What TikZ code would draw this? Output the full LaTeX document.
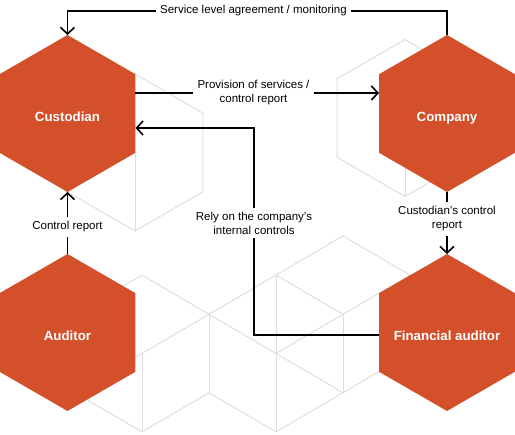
\documentclass[tikz,border=0pt]{standalone}
\usepackage{fontspec}
\setmainfont{Liberation Sans}
\usetikzlibrary{arrows.meta,positioning,shapes.geometric}
\definecolor{hexorange}{HTML}{D4502B}
\definecolor{cubegrey}{HTML}{DEDEDE}
% hexagon text takes no room, so every hexagon keeps the same size
\newcommand{\hextext}[1]{\makebox[0pt]{#1}}

\tikzset{
  hexnode/.style={regular polygon, regular polygon sides=6, shape border rotate=30,
    fill=hexorange, draw=none, minimum size=157pt, inner sep=0pt, outer sep=0pt,
    text height=16.5pt, text depth=0pt,
    text=white, font=\fontsize{13.3}{16}\selectfont\bfseries},
  lbl/.style={align=center, inner sep=4pt, font=\fontsize{11.5}{14}\selectfont},
  conn/.style={line width=1.6pt, black},
  cubeline/.style={draw=cubegrey, line width=1pt},
}

\begin{document}
\begin{tikzpicture}[x=1pt,y=1pt,>={Straight Barb[length=6.5pt,width=14pt]}]
\useasboundingbox (0,0) rectangle (515,435);
\def\hexr{78.5}
% grey cubes behind the top hexagons
\foreach \cx/\cy in {135/282.5,405/317} {
  \draw[cubeline] (\cx,\cy) +(90:\hexr) -- +(150:\hexr) -- +(210:\hexr)
    -- +(270:\hexr) -- +(330:\hexr) -- +(30:\hexr) -- cycle;
  \draw[cubeline] (\cx,\cy) -- +(0,-\hexr);
}
% grey lattice between the bottom hexagons
\begin{scope}[shift={(142,81.5)},x=67pt,y=39.2pt]
\foreach \a/\b/\c/\d in {-1/1/0/2,0/2/1/1,1/1/3/3,3/3/4/2,2/2/3/1,3/1/4/2,
  -1/-1/1/1,1/1/2/0,2/0/3/1,2/0/3/-1,3/-1/4/0,-1/-1/0/-2,0/-2/1/-1,
  1/-1/2/-2,2/-2/3/-1,0/0/0/-2,1/1/1/-1,2/2/2/-2,3/1/3/-1}
  \draw[cubeline] (\a,\b) -- (\c,\d);
\end{scope}
% parties
\node[hexnode] (custodian) at (67.5,321.5) {\hextext{Custodian}};
\node[hexnode] (company) at (447,321.5) {\hextext{Company}};
\node[hexnode] (auditor) at (67.5,102.5) {\hextext{Auditor}};
\node[hexnode] (finaud) at (447,102.5) {\hextext{Financial auditor}};
% labels
\node[lbl] (sla) at (253.5,424) {Service level agreement / monitoring};
\node[lbl] (prov) at (253.5,342) {Provision of services /\\control report};
\node[lbl] (rely) at (254,212) {Rely on the company’s\\internal controls};
\node[lbl] (ctrl) at (67.5,208) {Control report};
\node[lbl] (custrep) at (447,216) {Custodian’s control\\report};
% connectors
\draw[conn] (company.north) |- (sla.east);
\draw[conn,->] (sla.west) -| (custodian.north);
\draw[conn] (custodian.east |- prov.west) -- (prov.west);
\draw[conn,->] (prov.east) -- (company.west |- prov.east);
\draw[conn] ([yshift=-2.5pt]finaud.west) -| (rely.south);
\draw[conn,->] (rely.north) |- ([yshift=-14.5pt]custodian.east);
\draw[conn] (auditor.north) -- (ctrl.south);
\draw[conn,->] (ctrl.north) -- (custodian.south);
\draw[conn] (company.south) -- (custrep.north);
\draw[conn,->] (custrep.south) -- (finaud.north);
\end{tikzpicture}
\end{document}
